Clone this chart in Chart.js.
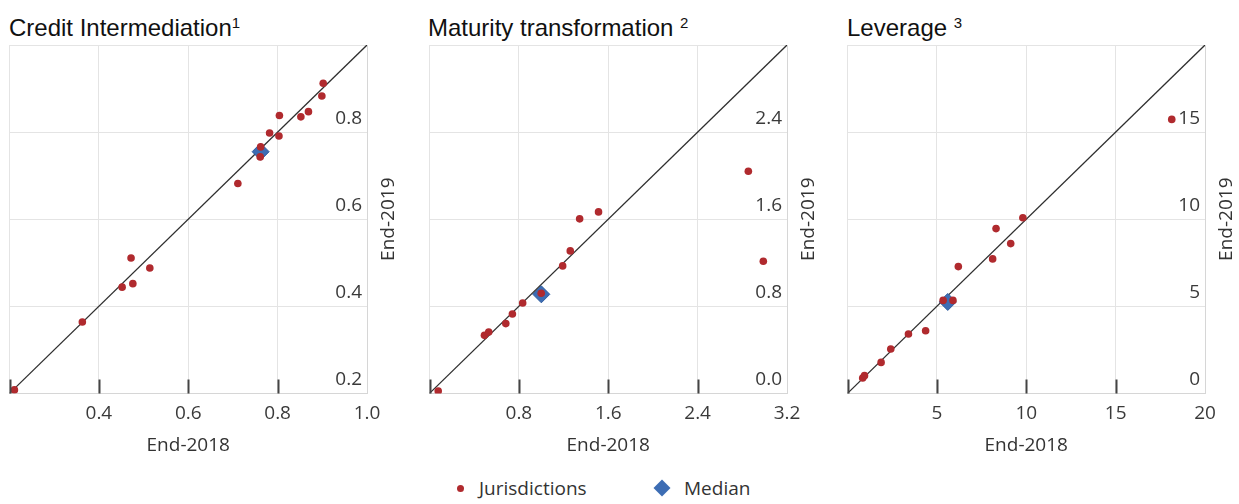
<!DOCTYPE html>
<html>
<head>
<meta charset="utf-8">
<script src="https://cdn.jsdelivr.net/npm/chart.js@4.4.1/dist/chart.umd.min.js"></script>
<style>
  html, body { margin: 0; padding: 0; background: #fff; }
  body { width: 1239px; height: 504px; position: relative; overflow: hidden; }
  .panel { position: absolute; top: 0; height: 460px; }
  .title { position: absolute; top: 14px; font-family: "Liberation Sans", Arial, sans-serif;
           font-size: 24px; color: #111; white-space: nowrap; line-height: 28px; }
  .title .sup { font-size: 15px; position: relative; top: -8px; }
  .legend { position: absolute; top: 476px; left: 0; width: 1239px; height: 26px;
            font-family: "Open Sans", sans-serif; font-size: 19px; color: #333; }
  .legend .item { position: absolute; top: 0; line-height: 24px; white-space: nowrap; }
  .dot { position: absolute; width: 7px; height: 7px; border-radius: 50%; background: #b02a2e; }
  .diamond { position: absolute; width: 12px; height: 12px; background: #3d6db4; transform: rotate(45deg); }
</style>
</head>
<body>
<div class="title" style="left:9px">Credit Intermediation<span class="sup">1</span></div>
<div class="title" style="left:428px">Maturity transformation <span class="sup">2</span></div>
<div class="title" style="left:847px">Leverage <span class="sup">3</span></div>

<div class="panel" style="left:0;width:420px"><canvas id="c1" width="420" height="460"></canvas></div>
<div class="panel" style="left:420px;width:420px"><canvas id="c2" width="420" height="460"></canvas></div>
<div class="panel" style="left:838px;width:401px"><canvas id="c3" width="401" height="460"></canvas></div>

<div class="legend">
  <span class="dot" style="left:457px;top:9px"></span>
  <span class="item" style="left:479px">Jurisdictions</span>
  <span class="diamond" style="left:656px;top:6px"></span>
  <span class="item" style="left:684px">Median</span>
</div>

<script>
// Credit intermediation: end-2018 vs end-2019 by jurisdiction
const creditX = [0.211, 0.363, 0.452, 0.476, 0.472, 0.514, 0.711, 0.761, 0.762, 0.782, 0.803, 0.804, 0.852, 0.869, 0.899, 0.902];
const creditY = [0.208, 0.364, 0.444, 0.452, 0.511, 0.488, 0.682, 0.743, 0.766, 0.798, 0.791, 0.838, 0.835, 0.847, 0.883, 0.912];
const creditMedian = [0.762, 0.755];
// axis [min, max, step, decimals]
const creditRange = [0.2, 1.0, 0.2, 1];

// Maturity transformation
const maturityX = [0.078, 0.492, 0.530, 0.683, 0.742, 0.834, 1.000, 1.192, 1.260, 1.344, 1.513, 2.854, 2.988];
const maturityY = [0.021, 0.533, 0.564, 0.641, 0.729, 0.830, 0.920, 1.171, 1.309, 1.603, 1.667, 2.041, 1.214];
const maturityMedian = [1.001, 0.910];
const maturityRange = [0, 3.2, 0.8, 1];

// Leverage
const leverageX = [0.85, 0.95, 1.88, 2.42, 3.41, 4.37, 5.35, 5.90, 6.20, 8.12, 8.31, 9.13, 9.81, 18.14];
const leverageY = [0.88, 1.02, 1.78, 2.55, 3.41, 3.60, 5.34, 5.34, 7.28, 7.72, 9.46, 8.60, 10.08, 15.73];
const leverageMedian = [5.61, 5.25];
const leverageRange = [0, 20, 5, 0];

const xTitle = 'End-2018';
const yTitle = 'End-2019';

const RED = '#b02a2e';
const BLUE = '#3d6db4';
const GRID = '#e4e4e4';
const TICK_FONT = { family: '"Open Sans", sans-serif', size: 19 };
const TICK_COLOR = '#3a3a3a';
const TICK_MARK_COLOR = '#444';
const TICK_MARK_SIZE = 14;

// Rotated y-axis title on the right, reading bottom to top
const sideTitle = {
  id: 'sideTitle',
  afterDraw(chart) {
    const { ctx, chartArea } = chart;
    ctx.save();
    ctx.translate(chartArea.right + 22, (chartArea.top + chartArea.bottom) / 2);
    ctx.rotate(-Math.PI / 2);
    ctx.font = '19px "Open Sans", sans-serif';
    ctx.fillStyle = '#333';
    ctx.textAlign = 'center';
    ctx.textBaseline = 'middle';
    ctx.fillText(yTitle, 0, 0);
    ctx.restore();
  }
};

// Short tick marks rising from the bottom edge into the plot at each x tick
const innerTicks = {
  id: 'innerTicks',
  afterDraw(chart) {
    const { ctx, chartArea } = chart;
    const xs = chart.scales.x;
    ctx.save();
    ctx.strokeStyle = TICK_MARK_COLOR;
    ctx.lineWidth = 2;
    ctx.beginPath();
    xs.ticks.forEach((t) => {
      if (t.value >= xs.max) return;
      const px = Math.round(xs.getPixelForValue(t.value)) + 0.5;
      ctx.moveTo(px, chartArea.bottom);
      ctx.lineTo(px, chartArea.bottom - TICK_MARK_SIZE);
    });
    ctx.stroke();
    ctx.restore();
  }
};

function points(xs, ys) {
  return xs.map((x, i) => ({ x: x, y: ys[i] }));
}

function makePanel(id, xs, ys, median, range, padRight) {
  const [lo, hi, step, dec] = range;
  return new Chart(document.getElementById(id), {
    type: 'scatter',
    data: {
      datasets: [
        {
          label: 'Jurisdictions',
          data: points(xs, ys),
          backgroundColor: RED,
          borderColor: RED,
          pointRadius: 3.8,
          pointHoverRadius: 3.8,
          borderWidth: 0
        },
        {
          label: 'Median',
          data: [{ x: median[0], y: median[1] }],
          backgroundColor: BLUE,
          borderColor: '#2f5c9e',
          borderWidth: 1,
          pointStyle: 'rectRot',
          pointRadius: 8.5,
          pointHoverRadius: 8.5
        },
        {
          label: '45-degree line',
          type: 'line',
          data: [{ x: lo, y: lo }, { x: hi, y: hi }],
          borderColor: '#2e2e2e',
          borderWidth: 1.3,
          pointRadius: 0,
          fill: false
        }
      ]
    },
    options: {
      responsive: false,
      animation: false,
      events: [],
      layout: { padding: { left: 9, right: padRight, top: 45, bottom: 3 } },
      plugins: {
        legend: { display: false },
        tooltip: { enabled: false }
      },
      scales: {
        x: {
          type: 'linear',
          min: lo, max: hi,
          grid: { color: GRID, drawTicks: false },
          border: { color: '#d6d6d6' },
          ticks: {
            stepSize: step,
            padding: 9,
            maxRotation: 0,
            autoSkip: false,
            color: TICK_COLOR,
            font: TICK_FONT,
            callback: (v, i) => (i === 0 ? '' : Number(v).toFixed(dec))
          },
          title: {
            display: true,
            text: xTitle,
            color: '#333',
            font: TICK_FONT,
            padding: { top: 0, bottom: 0 }
          }
        },
        y: {
          type: 'linear',
          position: 'right',
          min: lo, max: hi,
          grid: { color: GRID, drawTicks: true, tickLength: 5, tickColor: 'rgba(0,0,0,0)' },
          border: { color: '#d6d6d6' },
          ticks: {
            stepSize: step,
            mirror: true,
            padding: -5,
            labelOffset: -14,
            color: TICK_COLOR,
            font: TICK_FONT,
            callback: (v, i, t) => (i === t.length - 1 ? '' : Number(v).toFixed(dec))
          }
        }
      }
    },
    plugins: [sideTitle, innerTicks]
  });
}

makePanel('c1', creditX, creditY, creditMedian, creditRange, 53);
makePanel('c2', maturityX, maturityY, maturityMedian, maturityRange, 53);
makePanel('c3', leverageX, leverageY, leverageMedian, leverageRange, 34);
</script>
</body>
</html>
